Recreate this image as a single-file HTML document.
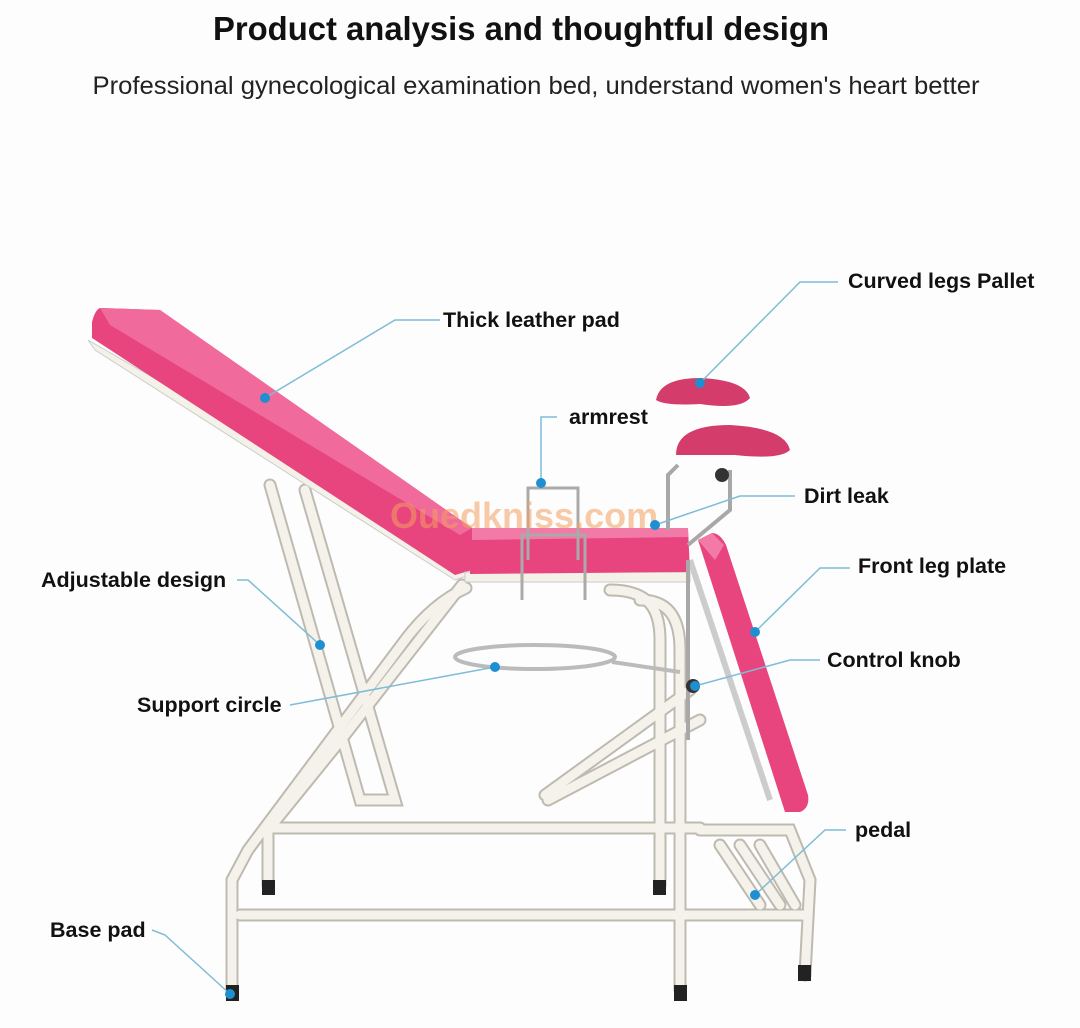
<!DOCTYPE html>
<html><head><meta charset="utf-8"><style>
html,body{margin:0;padding:0;background:#fdfdfd;}
svg{display:block}
text{font-family:"Liberation Sans",Arial,sans-serif;}
.l{font-weight:bold;font-size:21.5px;fill:#111}
.cl{stroke:#7fbcd6;stroke-width:1.5;fill:none}
.dot{fill:#1e8fd0}
.to{stroke:#bdbab0;stroke-linecap:round;fill:none}
.ti{stroke:#f4f2ea;stroke-linecap:round;fill:none}
</style></head><body>
<svg width="1080" height="1028" viewBox="0 0 1080 1028" xmlns="http://www.w3.org/2000/svg">
<rect width="1080" height="1028" fill="#fdfdfd"/>
<text x="521" y="40" text-anchor="middle" font-size="33" font-weight="bold" fill="#111" textLength="616" lengthAdjust="spacingAndGlyphs">Product analysis and thoughtful design</text>
<text x="536" y="94" text-anchor="middle" font-size="25" fill="#222" textLength="887" lengthAdjust="spacingAndGlyphs">Professional gynecological examination bed, understand women's heart better</text>

<g class="to" stroke-width="13">
<path d="M462 585 L345 735 L268 830 L268 885"/>
<path d="M466 588 C440 600 420 620 405 640 L248 850 L232 880 L232 990"/>
<path d="M610 590 C650 590 660 610 660 640 L660 885"/>
<path d="M640 600 C670 600 680 620 680 650 L680 990"/>
<path d="M270 828 L700 828"/>
<path d="M240 915 L805 915"/>
<path d="M700 830 L790 830 L810 880 L805 975"/>
<path d="M720 845 L760 905 M740 845 L780 905 M760 845 L795 905"/>
<path d="M270 485 L360 800 L395 800 L305 490"/>
<path d="M545 795 L690 690 M548 800 L700 720"/>
</g>
<g class="ti" stroke-width="9">
<path d="M462 585 L345 735 L268 830 L268 885"/>
<path d="M466 588 C440 600 420 620 405 640 L248 850 L232 880 L232 990"/>
<path d="M610 590 C650 590 660 610 660 640 L660 885"/>
<path d="M640 600 C670 600 680 620 680 650 L680 990"/>
<path d="M270 828 L700 828"/>
<path d="M240 915 L805 915"/>
<path d="M700 830 L790 830 L810 880 L805 975"/>
<path d="M720 845 L760 905 M740 845 L780 905 M760 845 L795 905"/>
<path d="M270 485 L360 800 L395 800 L305 490"/>
<path d="M545 795 L690 690 M548 800 L700 720"/>
</g>
<g fill="#222">
<rect x="226" y="985" width="13" height="16"/>
<rect x="262" y="880" width="13" height="15"/>
<rect x="653" y="880" width="13" height="15"/>
<rect x="674" y="985" width="13" height="16"/>
<rect x="798" y="965" width="13" height="16"/>
</g>
<ellipse cx="535" cy="657" rx="80" ry="12" fill="none" stroke="#bbb" stroke-width="4"/>
<path d="M612 662 L680 672" stroke="#bbb" stroke-width="4"/>
<polygon points="88,340 95,350 455,580 470,575 470,560" fill="#f3f1e8" stroke="#ccc"/>
<path d="M100 308 Q95 310 92 322 L92 338 L455 575 L472 570 L472 528 L160 310 Z" fill="#e8457f"/>
<path d="M100 308 L160 310 L472 528 L460 535 L110 325 Z" fill="#f06a9b"/>
<rect x="465" y="572" width="225" height="10" fill="#f3f1e8" stroke="#ccc"/>
<path d="M472 528 L688 528 L690 572 L470 574 Z" fill="#e8457f"/>
<path d="M472 528 L688 528 L688 537 L472 540 Z" fill="#f27aa6"/>
<path d="M528 560 L528 488 L578 488 L578 560 M522 600 L522 535 L585 535 L585 600" stroke="#aaa" stroke-width="3" fill="none"/>
<path d="M698 540 L712 533 Q720 533 726 545 L808 795 Q810 808 800 812 L785 812 Z" fill="#e8457f"/>
<path d="M698 540 L712 533 L724 545 L715 560 Z" fill="#f27aa6"/>
<path d="M690 560 L770 800" stroke="#ccc" stroke-width="6"/>
<path d="M668 530 L668 475 L678 465 M688 560 L688 740 M688 545 L730 510 L730 470" stroke="#a8a8a8" stroke-width="4" fill="none"/>
<circle cx="693" cy="686" r="7" fill="#333"/>
<circle cx="722" cy="475" r="7" fill="#333"/>
<path d="M656 400 Q660 378 700 378 Q745 380 750 398 Q740 410 700 404 Q665 406 656 400 Z" fill="#d43d6b"/>
<path d="M676 455 Q676 425 730 425 Q785 428 790 450 Q780 460 735 455 Q690 455 676 455 Z" fill="#d43d6b"/>
<text x="390" y="528" font-size="36" font-weight="bold" fill="#f3a060" opacity="0.55">Ouedkniss.com</text>

<path class="cl" d="M440 320 L395 320 L265 398"/><circle class="dot" cx="265" cy="398" r="5"/>
<text class="l" x="443" y="327">Thick leather pad</text>
<path class="cl" d="M838 282 L800 282 L700 383"/><circle class="dot" cx="700" cy="383" r="5"/>
<text class="l" x="848" y="288">Curved legs Pallet</text>
<path class="cl" d="M557 417 L541 417 L541 483"/><circle class="dot" cx="541" cy="483" r="5"/>
<text class="l" x="569" y="424">armrest</text>
<path class="cl" d="M795 496 L740 496 L655 525"/><circle class="dot" cx="655" cy="525" r="5"/>
<text class="l" x="804" y="503">Dirt leak</text>
<path class="cl" d="M850 568 L820 568 L755 632"/><circle class="dot" cx="755" cy="632" r="5"/>
<text class="l" x="858" y="573">Front leg plate</text>
<path class="cl" d="M820 660 L790 660 L695 686"/><circle class="dot" cx="695" cy="686" r="5"/>
<text class="l" x="827" y="667">Control knob</text>
<path class="cl" d="M846 830 L825 830 L755 895"/><circle class="dot" cx="755" cy="895" r="5"/>
<text class="l" x="855" y="837">pedal</text>
<path class="cl" d="M237 580 L248 580 L320 645"/><circle class="dot" cx="320" cy="645" r="5"/>
<text class="l" x="41" y="587">Adjustable design</text>
<path class="cl" d="M290 705 L495 667"/><circle class="dot" cx="495" cy="667" r="5"/>
<text class="l" x="137" y="712">Support circle</text>
<path class="cl" d="M152 930 L165 935 L230 994"/><circle class="dot" cx="230" cy="994" r="5"/>
<text class="l" x="50" y="937">Base pad</text>
</svg>
</body></html>
